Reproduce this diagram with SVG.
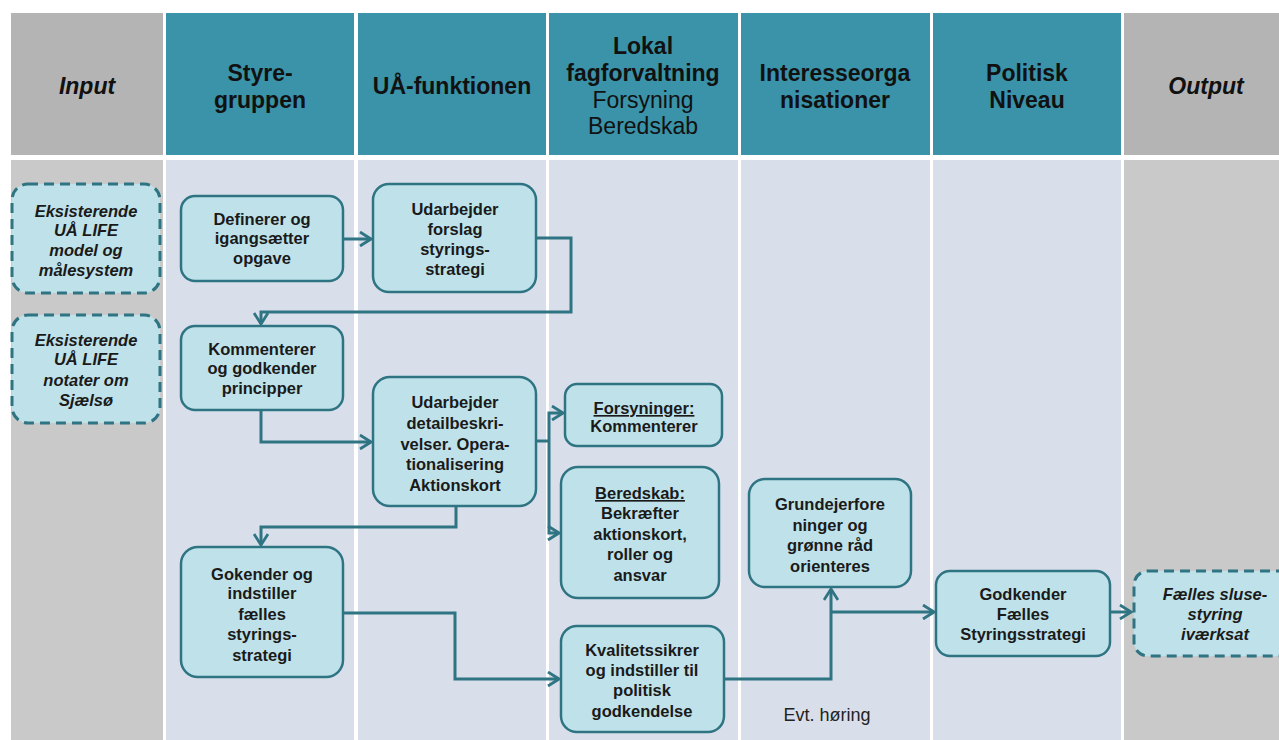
<svg xmlns="http://www.w3.org/2000/svg" width="1279" height="740" viewBox="0 0 1279 740">
<defs>
<style>
.hd{fill:#3a93a9}
.hg{fill:#b4b4b4}
.bg{fill:#c9c9c9}
.bl{fill:#d8dfeb}
.ht{font-family:"Liberation Sans",Arial,sans-serif;font-weight:bold;font-size:23px;fill:#111;text-anchor:middle}
.htn{font-weight:normal}
.it{font-style:italic}
.nd{fill:#bfe2ea;stroke:#2f7482;stroke-width:2.5}
.dn{fill:#bfe2ea;stroke:#2f7482;stroke-width:3;stroke-dasharray:10 6}
.nt{font-family:"Liberation Sans",Arial,sans-serif;font-weight:bold;font-size:16.5px;fill:#1a1a1a;text-anchor:middle}
.con{fill:none;stroke:#2f7482;stroke-width:3;stroke-linejoin:miter}
.lb{font-family:"Liberation Sans",Arial,sans-serif;font-size:18px;fill:#222;text-anchor:middle}
</style>
<marker id="ah" markerWidth="14" markerHeight="16" refX="12" refY="8" orient="auto" markerUnits="userSpaceOnUse">
<path d="M1,1 L12,8 L1,15" fill="none" stroke="#2f7482" stroke-width="2.8"/>
</marker>
</defs>
<rect width="1279" height="740" fill="#ffffff"/>
<g id="lanes">
<rect class="hg" x="11" y="13" width="152" height="142"/>
<rect class="hd" x="166" y="13" width="188" height="142"/>
<rect class="hd" x="358" y="13" width="188" height="142"/>
<rect class="hd" x="549" y="13" width="189" height="142"/>
<rect class="hd" x="741" y="13" width="189" height="142"/>
<rect class="hd" x="933" y="13" width="188" height="142"/>
<rect class="hg" x="1124" y="13" width="155" height="142"/>
<rect class="bg" x="11" y="160" width="152" height="580"/>
<rect class="bl" x="166" y="160" width="188" height="580"/>
<rect class="bl" x="358" y="160" width="188" height="580"/>
<rect class="bl" x="549" y="160" width="189" height="580"/>
<rect class="bl" x="741" y="160" width="189" height="580"/>
<rect class="bl" x="933" y="160" width="188" height="580"/>
<rect class="bg" x="1124" y="160" width="155" height="580"/>
<text class="ht it" x="87" y="94">Input</text>
<text class="ht" x="260" y="81">Styre-</text>
<text class="ht" x="260" y="108">gruppen</text>
<text class="ht" x="452" y="94">UÅ-funktionen</text>
<text class="ht" x="643" y="54">Lokal</text>
<text class="ht" x="643" y="81">fagforvaltning</text>
<text class="ht htn" x="643" y="108">Forsyning</text>
<text class="ht htn" x="643" y="134">Beredskab</text>
<text class="ht" x="835" y="81">Interesseorga</text>
<text class="ht" x="835" y="108">nisationer</text>
<text class="ht" x="1027" y="81">Politisk</text>
<text class="ht" x="1027" y="108">Niveau</text>
<text class="ht it" x="1206" y="94">Output</text>
</g>
<g id="connectors">
<path class="con" d="M343,239 L371,239" marker-end="url(#ah)"/>
<path class="con" d="M536,238 L571,238 L571,312 L261,312 L261,324" marker-end="url(#ah)"/>
<path class="con" d="M261,410 L261,442 L371,442" marker-end="url(#ah)"/>
<path class="con" d="M536,441 L549,441"/>
<path class="con" d="M549,441 L549,413 L563,413" marker-end="url(#ah)"/>
<path class="con" d="M549,441 L549,533 L559,533" marker-end="url(#ah)"/>
<path class="con" d="M456,506 L456,527 L261,527 L261,545" marker-end="url(#ah)"/>
<path class="con" d="M343,613 L455,613 L455,679 L559,679" marker-end="url(#ah)"/>
<path class="con" d="M724,679 L831,679 L831,589" marker-end="url(#ah)"/>
<path class="con" d="M831,612 L934,612" marker-end="url(#ah)"/>
<path class="con" d="M1110,612 L1131,612" marker-end="url(#ah)"/>
</g>
<g id="in1">
<rect class="dn" x="12" y="184" width="148" height="109" rx="16"/>
<text class="nt it" x="86" y="217">Eksisterende</text>
<text class="nt it" x="86" y="236">UÅ LIFE</text>
<text class="nt it" x="86" y="256">model og</text>
<text class="nt it" x="86" y="276">målesystem</text>
</g>
<g id="in2">
<rect class="dn" x="12" y="315" width="148" height="108" rx="16"/>
<text class="nt it" x="86" y="346">Eksisterende</text>
<text class="nt it" x="86" y="365">UÅ LIFE</text>
<text class="nt it" x="86" y="386">notater om</text>
<text class="nt it" x="86" y="406">Sjælsø</text>
</g>
<g id="n1">
<rect class="nd" x="181" y="196" width="162" height="85" rx="14"/>
<text class="nt" x="262" y="225">Definerer og</text>
<text class="nt" x="262" y="244">igangsætter</text>
<text class="nt" x="262" y="264">opgave</text>
</g>
<g id="n2">
<rect class="nd" x="373" y="184" width="163" height="108" rx="16"/>
<text class="nt" x="455" y="215">Udarbejder</text>
<text class="nt" x="455" y="235">forslag</text>
<text class="nt" x="455" y="255">styrings-</text>
<text class="nt" x="455" y="275">strategi</text>
</g>
<g id="n3">
<rect class="nd" x="181" y="326" width="162" height="84" rx="14"/>
<text class="nt" x="262" y="355">Kommenterer</text>
<text class="nt" x="262" y="374">og godkender</text>
<text class="nt" x="262" y="394">principper</text>
</g>
<g id="n4">
<rect class="nd" x="373" y="377" width="163" height="129" rx="17"/>
<text class="nt" x="455" y="408">Udarbejder</text>
<text class="nt" x="455" y="429">detailbeskri-</text>
<text class="nt" x="455" y="450">velser. Opera-</text>
<text class="nt" x="455" y="470">tionalisering</text>
<text class="nt" x="455" y="491">Aktionskort</text>
</g>
<g id="n5">
<rect class="nd" x="565" y="384" width="157" height="62" rx="12"/>
<text class="nt" x="644" y="414" text-decoration="underline">Forsyninger:</text>
<text class="nt" x="644" y="432">Kommenterer</text>
</g>
<g id="n6">
<rect class="nd" x="561" y="467" width="158" height="131" rx="17"/>
<text class="nt" x="640" y="499" text-decoration="underline">Beredskab:</text>
<text class="nt" x="640" y="519">Bekræfter</text>
<text class="nt" x="640" y="540">aktionskort,</text>
<text class="nt" x="640" y="560">roller og</text>
<text class="nt" x="640" y="581">ansvar</text>
</g>
<g id="n7">
<rect class="nd" x="181" y="547" width="162" height="130" rx="17"/>
<text class="nt" x="262" y="580">Gokender og</text>
<text class="nt" x="262" y="599">indstiller</text>
<text class="nt" x="262" y="620">fælles</text>
<text class="nt" x="262" y="640">styrings-</text>
<text class="nt" x="262" y="661">strategi</text>
</g>
<g id="n8">
<rect class="nd" x="561" y="626" width="163" height="106" rx="16"/>
<text class="nt" x="642" y="656">Kvalitetssikrer</text>
<text class="nt" x="642" y="676">og indstiller til</text>
<text class="nt" x="642" y="696">politisk</text>
<text class="nt" x="642" y="717">godkendelse</text>
</g>
<g id="n9">
<rect class="nd" x="749" y="479" width="162" height="108" rx="16"/>
<text class="nt" x="830" y="510">Grundejerfore</text>
<text class="nt" x="830" y="531">ninger og</text>
<text class="nt" x="830" y="551">grønne råd</text>
<text class="nt" x="830" y="572">orienteres</text>
</g>
<g id="n10">
<rect class="nd" x="936" y="571" width="174" height="85" rx="14"/>
<text class="nt" x="1023" y="600">Godkender</text>
<text class="nt" x="1023" y="620">Fælles</text>
<text class="nt" x="1023" y="640">Styringsstrategi</text>
</g>
<g id="out1">
<rect class="dn" x="1134" y="571" width="160" height="85" rx="14"/>
<text class="nt it" x="1215" y="600">Fælles sluse-</text>
<text class="nt it" x="1215" y="620">styring</text>
<text class="nt it" x="1215" y="640">iværksat</text>
</g>
<g id="labels">
<text class="lb" x="827" y="721">Evt. høring</text>
</g>
</svg>
